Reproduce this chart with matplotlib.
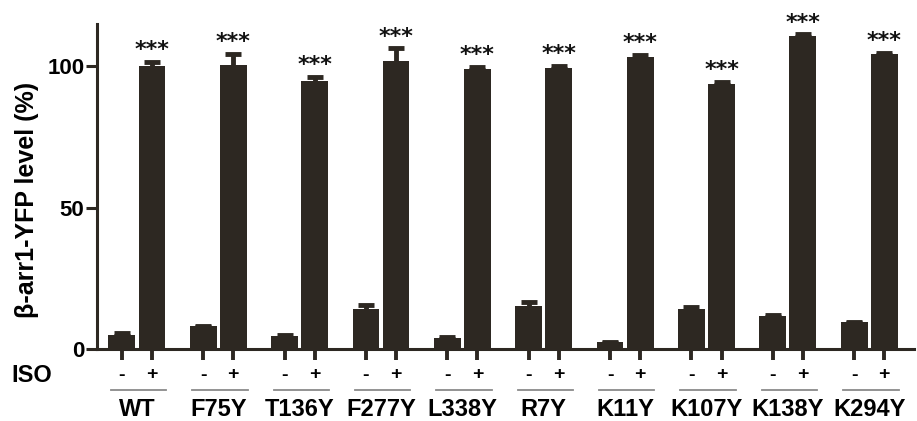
import matplotlib
matplotlib.use("Agg")
import matplotlib.pyplot as plt
import numpy as np
from matplotlib.transforms import blended_transform_factory
from matplotlib.lines import Line2D

groups = ["WT", "F75Y", "T136Y", "F277Y", "L338Y", "R7Y", "K11Y", "K107Y", "K138Y", "K294Y"]
minus_vals = [5.1, 8.0, 4.5, 14.2, 4.0, 15.1, 2.4, 14.0, 11.8, 9.5]
minus_err = [0.4, 0.3, 0.5, 1.4, 0.3, 1.5, 0.2, 0.8, 0.3, 0.2]
plus_vals = [100.3, 100.5, 95.0, 102.0, 99.2, 99.6, 103.3, 93.9, 110.8, 104.5]
plus_err = [1.4, 4.0, 1.3, 4.4, 0.6, 0.6, 0.7, 0.6, 0.5, 0.4]
stars = ["***"] * 10
iso_labels = ["-", "+"]
yticks = [0, 50, 100]

plt.rcParams['font.family'] = ['Liberation Sans', 'DejaVu Sans']
plt.rcParams['font.weight'] = 'bold'

col = "#2d2822"
fig = plt.figure(figsize=(9.17, 4.21), dpi=100)
ax = fig.add_axes([97/917, 72/421, 817/917, 325/421])

x = np.arange(len(groups))
off = 0.185
w = 0.33
xm = x - off
xp = x + off

ax.bar(xm, minus_vals, width=w, color=col, zorder=2)
ax.bar(xp, plus_vals, width=w, color=col, zorder=2)
ax.errorbar(xm, minus_vals, yerr=minus_err, fmt='none', ecolor=col,
            elinewidth=3.5, capsize=6, capthick=3.5, zorder=3)
ax.errorbar(xp, plus_vals, yerr=plus_err, fmt='none', ecolor=col,
            elinewidth=3.5, capsize=6, capthick=3.5, zorder=3)

for xi, v, e, s in zip(xp, plus_vals, plus_err, stars):
    ax.text(xi, v + e + 2.0, s, ha='center', va='baseline',
            fontsize=16, fontweight='bold', family='DejaVu Sans', color='#111111')

ax.set_xlim(-0.49, 9.55)
ax.set_ylim(0, 115)

for sp in ['top', 'right']:
    ax.spines[sp].set_visible(False)
for sp in ['left', 'bottom']:
    ax.spines[sp].set_linewidth(2.2)
    ax.spines[sp].set_color(col)

ticks = np.sort(np.concatenate([xm, xp]))
ax.set_xticks(ticks)
ax.set_xticklabels([])
ax.tick_params(axis='x', length=8, width=2.8, color=col)
ax.set_yticks(yticks)
ax.set_yticklabels([str(t) for t in yticks], fontsize=16, fontweight='bold')
ax.tick_params(axis='y', length=8, width=2.2, color=col, pad=1)

tr = blended_transform_factory(ax.transData, fig.transFigure)
for xi in x:
    ax.text(xi - off, (421 - 375) / 421, iso_labels[0], transform=tr, ha='center', va='center',
            fontsize=14, fontweight='bold')
    ax.text(xi + off, (421 - 375) / 421, iso_labels[1], transform=tr, ha='center', va='center',
            fontsize=14, fontweight='bold')
    ln = Line2D([xi - 0.32, xi + 0.36], [(421 - 390) / 421] * 2, transform=tr,
                color='#8a8a8a', lw=1.3, clip_on=False)
    ax.add_line(ln)
    ax.text(xi, (421 - 410) / 421, groups[xi], transform=tr, ha='center', va='center',
            fontsize=17, fontweight='bold')

fig.text(32/917, (421 - 375) / 421, "ISO", ha='center', va='center', fontsize=17, fontweight='bold')
fig.text(27/917, (421 - 200) / 421, "β-arr1-YFP level (%)", rotation=90, ha='center', va='center',
         fontsize=18, fontweight='bold')

fig.savefig("out.png", dpi=100)
